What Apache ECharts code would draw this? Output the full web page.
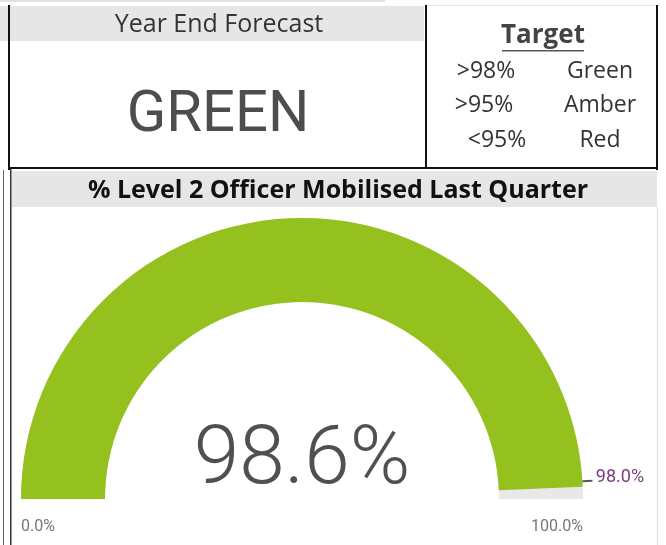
<!DOCTYPE html>
<html>
<head>
<meta charset="utf-8">
<title>Level 2 Officer Mobilised</title>
<script src="https://cdn.jsdelivr.net/npm/echarts@6/dist/echarts.min.js"></script>
<style>
  html, body { margin: 0; padding: 0; background: #fff; }
  #main { width: 666px; height: 545px; }
</style>
</head>
<body>
<div id="main"></div>
<script>
// chart values
const gaugeMin = 0
const gaugeMax = 100
const actualValue = [98.6]
const targetValue = [98.0]
const forecastStatus = ['GREEN']
const targetBands = ['>98%', '>95%', '<95%']
const targetColours = ['Green', 'Amber', 'Red']

const cardFont = '"Open Sans", "Noto Sans", sans-serif'
const dinFont = 'Roboto, sans-serif'
const pct = v => v.toFixed(1) + '%'

// gauge geometry
const cx = 302
const cy = 499
const outerR = 281
const bandWidth = 84

const myChart = echarts.init(document.getElementById('main'), null, { renderer: 'canvas' })

// target table rows
const bandRowsY = [71, 105, 140]
const bandLeftX = [486, 484, 497]
const targetRows = []
targetBands.forEach((b, i) => {
  targetRows.push({
    type: 'text', x: bandLeftX[i], y: bandRowsY[i],
    style: { text: b, font: '23px ' + cardFont, fill: '#333', align: 'center', verticalAlign: 'middle' }
  })
  targetRows.push({
    type: 'text', x: 600, y: bandRowsY[i],
    style: { text: targetColours[i], font: '23px ' + cardFont, fill: '#333', align: 'center', verticalAlign: 'middle' }
  })
})

myChart.setOption({
  animation: false,
  graphic: [
    // card backgrounds and borders
    { type: 'rect', shape: { x: 0, y: 0, width: 385, height: 2 }, style: { fill: '#e2e2e2' } },
    { type: 'rect', shape: { x: 0, y: 6, width: 424, height: 35 }, style: { fill: '#e6e6e6' } },
    { type: 'rect', shape: { x: 428, y: 5, width: 228, height: 1 }, style: { fill: '#e6e6e6' } },
    { type: 'rect', shape: { x: 8, y: 5, width: 2, height: 165 }, style: { fill: '#111' } },
    { type: 'rect', shape: { x: 425, y: 5, width: 2, height: 164 }, style: { fill: '#111' } },
    { type: 'rect', shape: { x: 656, y: 5, width: 2, height: 165 }, style: { fill: '#111' } },
    { type: 'rect', shape: { x: 8, y: 167, width: 650, height: 2 }, style: { fill: '#111' } },
    { type: 'rect', shape: { x: 3, y: 170, width: 1, height: 375 }, style: { fill: '#666' } },
    { type: 'rect', shape: { x: 10, y: 169, width: 1.5, height: 376 }, style: { fill: '#333' } },
    { type: 'rect', shape: { x: 657, y: 207, width: 1, height: 338 }, style: { fill: '#ddd' } },
    { type: 'rect', shape: { x: 12, y: 171, width: 645, height: 36 }, style: { fill: '#e6e6e6' } },
    // year end forecast card
    {
      type: 'text', x: 219, y: 25,
      style: { text: 'Year End Forecast', font: '25px ' + cardFont, fill: '#333', align: 'center', verticalAlign: 'middle' }
    },
    {
      type: 'text', x: 218, y: 116,
      style: { text: forecastStatus[0], font: '58px ' + dinFont, fill: '#4d4d4d', align: 'center', verticalAlign: 'middle' }
    },
    // target card
    {
      type: 'text', x: 543, y: 36,
      style: { text: 'Target', font: 'bold 26px ' + cardFont, fill: '#444', align: 'center', verticalAlign: 'middle' }
    },
    { type: 'rect', shape: { x: 502, y: 50, width: 82, height: 1.5 }, style: { fill: '#555' } },
    ...targetRows,
    // gauge title
    {
      type: 'text', x: 338, y: 191,
      style: { text: '% Level 2 Officer Mobilised Last Quarter', font: 'bold 25px ' + cardFont, fill: '#111', align: 'center', verticalAlign: 'middle' }
    }
  ],
  series: [
    {
      name: 'Mobilised',
      type: 'gauge',
      center: [cx, cy],
      radius: outerR,
      startAngle: 180,
      endAngle: 0,
      min: gaugeMin,
      max: gaugeMax,
      splitNumber: 1,
      axisLine: {
        lineStyle: { width: bandWidth, color: [[1, '#e8e8e8']] }
      },
      progress: {
        show: true,
        width: bandWidth,
        itemStyle: { color: '#95c11f' }
      },
      pointer: { show: false },
      anchor: { show: false },
      axisTick: { show: false },
      splitLine: { show: false, length: 0, distance: 0 },
      axisLabel: {
        distance: 0,
        formatter: v => '{t|' + pct(v) + '}',
        rich: {
          t: {
            color: '#777',
            fontSize: 16,
            fontFamily: dinFont,
            padding: [56, 0, 0, 0]
          }
        }
      },
      title: { show: false },
      detail: {
        offsetCenter: [0, -37],
        fontSize: 82,
        fontWeight: 300,
        fontFamily: dinFont,
        color: '#505050',
        formatter: v => pct(v)
      },
      data: [{ value: actualValue[0] }]
    },
    {
      name: 'Target',
      type: 'gauge',
      z: 5,
      center: [cx, cy],
      radius: outerR,
      startAngle: 180,
      endAngle: 0,
      min: gaugeMin,
      max: gaugeMax,
      axisLine: { show: false },
      progress: { show: false },
      axisTick: { show: false },
      splitLine: { show: false },
      axisLabel: { show: false },
      anchor: { show: false },
      pointer: {
        show: true,
        icon: 'rect',
        width: 2,
        length: 10,
        offsetCenter: [0, -outerR],
        itemStyle: { color: '#555' }
      },
      title: { show: false },
      detail: {
        offsetCenter: [318, -22],
        fontSize: 18,
        fontWeight: 'normal',
        fontFamily: dinFont,
        color: '#7d3c7d',
        formatter: v => pct(v)
      },
      data: [{ value: targetValue[0] }]
    }
  ]
})

window.addEventListener('resize', () => {
  myChart.resize()
})
</script>
</body>
</html>
